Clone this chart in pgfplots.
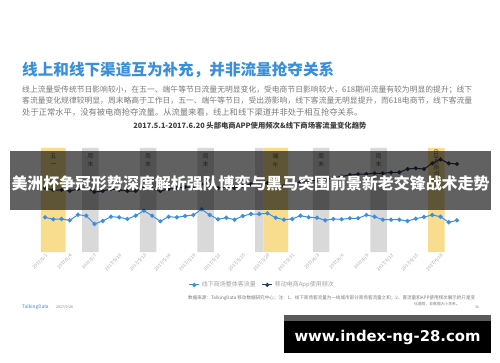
\documentclass[border=0pt]{standalone}
\usepackage{graphicx}
\usepackage{pgfplots}
\pgfplotsset{compat=1.18}
\usepackage{pgfplotstable}
\usepackage{fontspec}
\setmainfont{Noto Sans CJK SC}
\newfontfamily\dejavu{DejaVu Sans}
\definecolor{titleblue}{HTML}{3A8FDB}
\definecolor{paragray}{HTML}{7A7A7A}
\definecolor{ctitle}{HTML}{404040}
\definecolor{bandyellow}{HTML}{F9DD8F}
\definecolor{bandgray}{HTML}{D9D9D9}
\definecolor{blueline}{HTML}{3C8FE0}
\definecolor{darkline}{HTML}{2E3B55}
\definecolor{lblgray}{HTML}{5A5A5A}
\definecolor{ticgray}{HTML}{A0A0A0}
\definecolor{stripgray}{HTML}{5A5A5A}

\pgfplotstableread{
d blue dark
0 144.7 174
1 142.7 172
2 143.0 172
3 141.7 171
4 147.3 173
5 146.3 174
6 138.0 170
7 141.0 171
8 145.3 173
9 144.7 172
10 143.0 171
11 146.3 171
12 151.3 175
13 146.3 173
14 140.7 171
15 145.3 173
16 144.7 174
17 146.0 175
18 147.0 175
19 152.7 178
20 147.0 176
21 142.7 174
22 144.3 175
23 142.3 174
24 146.0 176
25 148.0 178
26 148.0 179
27 148.7 179
28 144.3 177
29 142.3 176
30 143.0 178
31 146.3 180
32 144.7 181
33 144.3 182
34 141.7 182
35 143.0 184
36 142.7 185.5
37 143.7 187
38 143.7 187.7
39 147.0 188
40 145.3 188.7
41 142.3 188.7
42 142.3 189.5
43 142.3 189.7
44 141.0 193
45 143.3 193.7
46 145.0 193
47 147.0 198.7
48 145.3 202.7
49 139.7 198.7
50 141.7 198
}\datatab

\begin{document}
\begin{tikzpicture}[x=1pt,y=1pt]
\path[use as bounding box, fill=white] (0,0) rectangle (500,362);

% headline
\node[anchor=west, inner sep=0, text=titleblue, font=\bfseries\fontsize{15.6}{18}\selectfont] at (22,292) {线上和线下渠道互为补充，并非流量抢夺关系};
% paragraph
\node[anchor=west, inner sep=0, text=paragray] at (22,272) {\resizebox{450pt}{!}{\fontsize{8.3}{10}\selectfont 线上流量受传统节日影响较小，在五一、端午等节日流量无明显变化，受电商节日影响较大，618期间流量有较为明显的提升；线下}};
\node[anchor=west, inner sep=0, text=paragray] at (22,261) {\resizebox{450pt}{!}{\fontsize{8.3}{10}\selectfont 客流量变化规律较明显，周末略高于工作日，五一、端午等节日，受出游影响，线下客流量无明显提升，而618电商节，线下客流量}};
\node[anchor=west, inner sep=0, text=paragray, font=\fontsize{8.3}{10}\selectfont] at (22,250) {处于正常水平，没有被电商抢夺流量。从流量来看，线上和线下渠道并非处于相互抢夺关系。};
% chart title
\node[inner sep=0, text=ctitle] at (250,236) {\resizebox{233pt}{!}{\bfseries\fontsize{7}{8}\selectfont 2017.5.1-2017.6.20 头部电商APP使用频次\&线下商场客流量变化趋势}};

\begin{axis}[
  at={(40.9pt,110pt)}, anchor=south west,
  scale only axis, width=420.2pt, height=104pt,
  xmin=-0.5, xmax=50.5, ymin=110, ymax=214,
  axis line style={draw=none},
  ytick=\empty,
  xtick={0,3,...,48},
  xticklabels={2017/5/1,2017/5/4,2017/5/7,2017/5/10,2017/5/13,2017/5/16,2017/5/19,2017/5/22,2017/5/25,2017/5/28,2017/5/31,2017/6/3,2017/6/6,2017/6/9,2017/6/12,2017/6/15,2017/6/18},
  major tick length=0pt,
  xticklabel style={rotate=45, anchor=north east, font=\fontsize{4.5}{5}\selectfont, text=ticgray, inner sep=1pt},
  clip=false,
  legend style={at={(0.352,-0.317)}, anchor=west, draw=none, fill=none, legend columns=2,
    font=\fontsize{6}{7}\selectfont, text=ticgray, inner sep=0pt, outer sep=0pt,
    /tikz/every even column/.append style={column sep=4pt}},
  legend image code/.code={\draw[mark repeat=2,mark phase=2] plot coordinates {(0pt,0pt) (5pt,0pt) (10pt,0pt)};},
]
% yellow bands (holidays)
\addplot[fill=bandyellow, draw=none, forget plot] coordinates {(-0.5,110) (2.5,110) (2.5,214) (-0.5,214) (-0.5,110)};
\addplot[fill=bandyellow, draw=none, forget plot] coordinates {(26.5,110) (29.5,110) (29.5,214) (26.5,214) (26.5,110)};
\addplot[fill=bandyellow, draw=none, forget plot] coordinates {(46.5,110) (48.5,110) (48.5,214) (46.5,214) (46.5,110)};
% gray bands (weekends)
\addplot[fill=bandgray, draw=none, forget plot] coordinates {(4.5,110) (6.5,110) (6.5,214) (4.5,214) (4.5,110)};
\addplot[fill=bandgray, draw=none, forget plot] coordinates {(11.5,110) (13.5,110) (13.5,214) (11.5,214) (11.5,110)};
\addplot[fill=bandgray, draw=none, forget plot] coordinates {(18.5,110) (20.5,110) (20.5,214) (18.5,214) (18.5,110)};
\addplot[fill=bandgray, draw=none, forget plot] coordinates {(25.5,110) (26.5,110) (26.5,214) (25.5,214) (25.5,110)};
\addplot[fill=bandgray, draw=none, forget plot] coordinates {(32.5,110) (34.5,110) (34.5,214) (32.5,214) (32.5,110)};
\addplot[fill=bandgray, draw=none, forget plot] coordinates {(39.5,110) (41.5,110) (41.5,214) (39.5,214) (39.5,110)};

\addplot[color=blueline, line width=1pt, mark=*, mark size=1.6pt] table[x=d,y=blue]{\datatab};
\addplot[color=darkline, line width=1pt, mark=*, mark size=1.5pt] table[x=d,y=dark]{\datatab};
\legend{线下商场整体客流量, 移动电商App使用频次}

\node[font=\fontsize{6}{8.5}\selectfont, align=center, text=lblgray] at (axis cs:1,201.5) {五\\一};
\node[font=\fontsize{6}{8.5}\selectfont, align=center, text=lblgray] at (axis cs:5.5,201.5) {周\\末};
\node[font=\fontsize{6}{8.5}\selectfont, align=center, text=lblgray] at (axis cs:12.5,201.5) {周\\末};
\node[font=\fontsize{6}{8.5}\selectfont, align=center, text=lblgray] at (axis cs:19.5,201.5) {周\\末};
\node[font=\fontsize{6}{8.5}\selectfont, align=center, text=lblgray] at (axis cs:33.5,201.5) {周\\末};
\node[font=\fontsize{6}{8.5}\selectfont, align=center, text=lblgray] at (axis cs:40.5,201.5) {周\\末};
\node[font=\fontsize{6}{8.5}\selectfont, align=center, text=lblgray] at (axis cs:28,201.5) {端\\午};
\node[rotate=-90, font=\fontsize{6}{7}\selectfont, text=lblgray] at (axis cs:47.5,199) {618电商节};
\end{axis}

% overlay banner
\fill[black, opacity=0.62] (10,152) rectangle (491,211);
\node[inner sep=0, text=white] at (250.5,179) {\resizebox{478pt}{!}{\bfseries\fontsize{15.5}{18}\selectfont 美洲杯争冠形势深度解析强队博弈与黑马突围前景新老交锋战术走势}};

% source note & footer
\node[anchor=west, inner sep=0, text=paragray] at (188,64) {\resizebox{287pt}{!}{\fontsize{3.8}{4.5}\selectfont 数据来源：TalkingData 移动数据研究中心；注：1、线下商场客流量为一线城市部分商场客流量之和；2、客流量和APP使用频次展示的只是变}};
\node[anchor=east, inner sep=0, text=paragray, font=\fontsize{3.8}{4.5}\selectfont] at (460,58) {化趋势，非数据大小关系。};
\node[anchor=west, inner sep=0, text=paragray, font=\fontsize{3.5}{4}\selectfont] at (475,55) {36};
\node[anchor=west, inner sep=0, text=titleblue, font=\fontsize{4.8}{5}\selectfont] at (22,55) {TalkingData};
\node[anchor=west, inner sep=0, text=paragray, font=\fontsize{3.6}{4}\selectfont] at (56,55) {2017/9/26};

% bottom watermark box
\fill[stripgray] (284,41) rectangle (491,47);
\fill[black] (284,9) rectangle (491,41);
\node[inner sep=0, text=white] at (387.5,25) {\resizebox{186pt}{!}{\dejavu\bfseries\fontsize{16}{18}\selectfont www.index-ng-28.com}};
\end{tikzpicture}
\end{document}
